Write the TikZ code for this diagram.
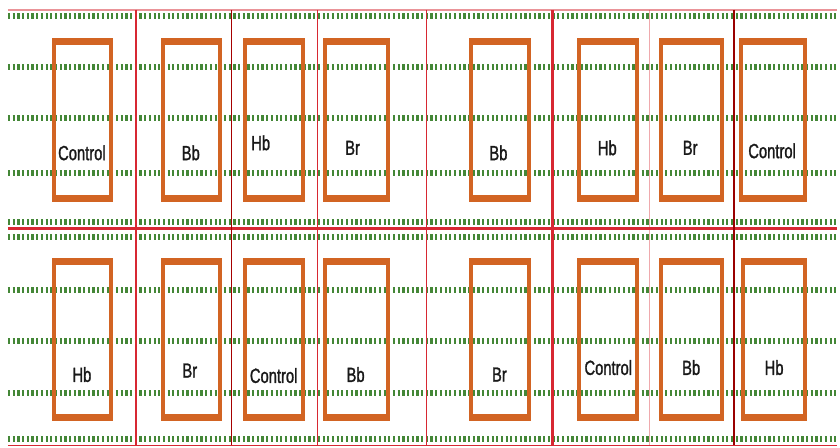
\documentclass[tikz,border=0pt]{standalone}
\usepackage{fontspec}
\newfontfamily\plotlabelfont[FakeStretch=0.72, FakeBold=1.2]{Liberation Sans}
\definecolor{plotRowColor}{RGB}{68,135,55}
\definecolor{plotBorderColor}{RGB}{210,100,35}
\definecolor{plotLineColor}{RGB}{215,40,50}
\begin{document}
\begin{tikzpicture}
% Field plot layout: two blocks of eight plots
\tikzset{
  croprow/.style={draw=plotRowColor, line width=6pt, dash pattern=on 2.2pt off 2.5pt},
  plotedge/.style={draw=plotBorderColor, line width=4pt},
  plotband/.style={fill=plotBorderColor},
  treatlabel/.style={font=\plotlabelfont\fontsize{20.5}{20.5}\selectfont, text=black!90, inner sep=0pt}
}
\begin{scope}[x=1pt, y=-1pt, line cap=butt]
  % Background
  \fill[white] (0,0) rectangle (840,448);
  % Crop rows
  \draw[croprow] (8,16) -- (838,16);
  \draw[croprow] (8,67) -- (838,67);
  \draw[croprow] (8,118) -- (838,118);
  \draw[croprow] (8,173) -- (838,173);
  \draw[croprow] (8,222) -- (838,222);
  \draw[croprow] (8,237) -- (838,237);
  \draw[croprow] (8,290) -- (838,290);
  \draw[croprow] (8,341) -- (838,341);
  \draw[croprow] (8,393) -- (838,393);
  \draw[croprow] (8,440) -- (838,440);
  % Block borders
  \begin{scope}[draw=plotLineColor]
    \draw[line width=1.2pt, draw opacity=0.5] (8,10) -- (838,10);
    \draw[line width=2.5pt] (8,229) -- (838,229);
    \draw[line width=1.2pt] (8,446) -- (838,446);
    \draw[line width=1.5pt] (136,10) -- (136,446);
    \draw[line width=1.5pt, draw=red!65!black] (232,10) -- (232,446);
    \draw[line width=1.5pt] (318,10) -- (318,446);
    \draw[line width=1.5pt] (427,10) -- (427,446);
    \draw[line width=3pt] (553,10) -- (553,446);
    \draw[line width=1pt, draw opacity=0.4] (650,10) -- (650,446);
    \draw[line width=1.5pt, draw=red!60!black] (735,10) -- (735,446);
  \end{scope}
  % Plots, upper block
  \draw[plotedge] (54,41) rectangle (111,199);
  \draw[plotedge] (163,41) rectangle (220,199);
  \draw[plotedge] (245,41) rectangle (303,199);
  \draw[plotedge] (325,41) rectangle (388,199);
  \draw[plotedge] (472,41) rectangle (530,199);
  \draw[plotedge] (580,41) rectangle (638,199);
  \draw[plotedge] (662,41) rectangle (723,199);
  \draw[plotedge] (742,41) rectangle (806,199);
  \begin{scope}[plotband]
    \fill (52,38) rectangle (113,45);
    \fill (161,38) rectangle (222,45);
    \fill (243,38) rectangle (305,45);
    \fill (323,38) rectangle (390,45);
    \fill (470,38) rectangle (532,45);
    \fill (578,38) rectangle (640,45);
    \fill (660,38) rectangle (725,45);
    \fill (740,38) rectangle (808,45);
    \fill (52,195) rectangle (113,202);
    \fill (161,195) rectangle (222,202);
    \fill (243,195) rectangle (305,202);
    \fill (323,195) rectangle (390,202);
    \fill (470,195) rectangle (532,202);
    \fill (578,195) rectangle (640,202);
    \fill (660,195) rectangle (725,202);
    \fill (740,195) rectangle (808,202);
  \end{scope}
  % Plots, lower block
  \draw[plotedge] (54,261) rectangle (111,418);
  \draw[plotedge] (163,261) rectangle (220,418);
  \draw[plotedge] (245,261) rectangle (303,418);
  \draw[plotedge] (325,261) rectangle (388,418);
  \draw[plotedge] (472,261) rectangle (530,418);
  \draw[plotedge] (580,261) rectangle (638,418);
  \draw[plotedge] (662,261) rectangle (723,418);
  \draw[plotedge] (744,261) rectangle (806,418);
  \begin{scope}[plotband]
    \fill (52,258) rectangle (113,265);
    \fill (161,258) rectangle (222,265);
    \fill (243,258) rectangle (305,265);
    \fill (323,258) rectangle (390,265);
    \fill (470,258) rectangle (532,265);
    \fill (578,258) rectangle (640,265);
    \fill (660,258) rectangle (725,265);
    \fill (742,258) rectangle (808,265);
    \fill (52,414) rectangle (113,421);
    \fill (161,414) rectangle (222,421);
    \fill (243,414) rectangle (305,421);
    \fill (323,414) rectangle (390,421);
    \fill (470,414) rectangle (532,421);
    \fill (578,414) rectangle (640,421);
    \fill (660,414) rectangle (725,421);
    \fill (742,414) rectangle (808,421);
  \end{scope}
  % Treatment labels, upper block
  \node[treatlabel] (upA) at (82,153) {Control};
  \node[treatlabel] (upB) at (191,153) {Bb};
  \node[treatlabel] (upC) at (261,143) {Hb};
  \node[treatlabel] (upD) at (353,148) {Br};
  \node[treatlabel] (upE) at (499,153) {Bb};
  \node[treatlabel] (upF) at (608,148) {Hb};
  \node[treatlabel] (upG) at (691,148) {Br};
  \node[treatlabel] (upH) at (773,151) {Control};
  % Treatment labels, lower block
  \node[treatlabel] (loA) at (82,375) {Hb};
  \node[treatlabel] (loB) at (190,371) {Br};
  \node[treatlabel] (loC) at (274,376) {Control};
  \node[treatlabel] (loD) at (356,375) {Bb};
  \node[treatlabel] (loE) at (500,375) {Br};
  \node[treatlabel] (loF) at (609,368) {Control};
  \node[treatlabel] (loG) at (692,368) {Bb};
  \node[treatlabel] (loH) at (775,368) {Hb};
\end{scope}
\end{tikzpicture}
\end{document}
